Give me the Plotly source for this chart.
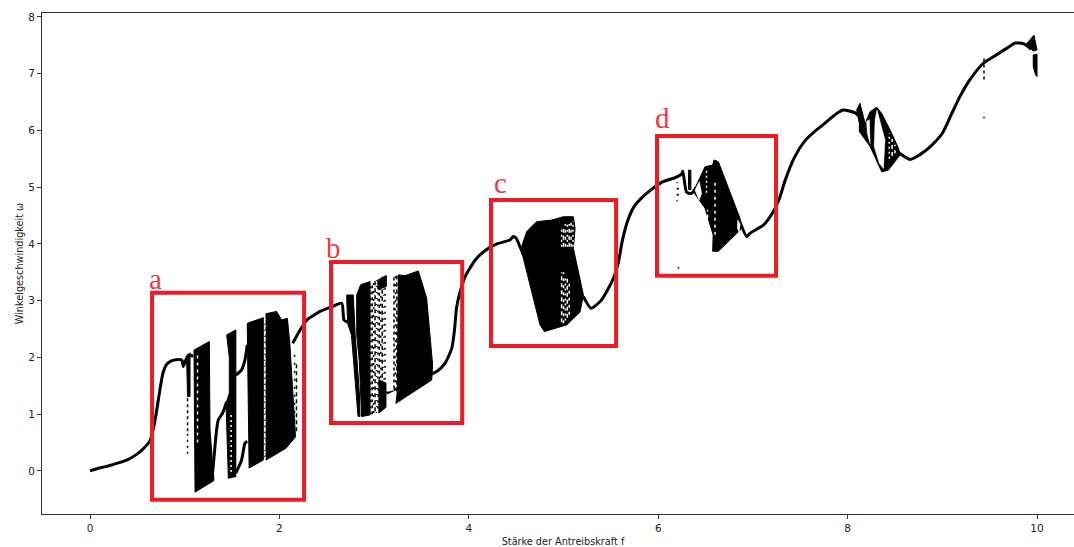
import plotly.graph_objects as go

# ---- continuous branch pieces (drive f, angular speed w) ----
c1_f = [0, 0.1, 0.2, 0.3, 0.4, 0.5, 0.55, 0.63, 0.67, 0.70, 0.74, 0.77, 0.81, 0.86, 0.91, 0.97, 0.985, 1.01, 1.04, 1.09]
c1_w = [0, 0.05, 0.09, 0.14, 0.2, 0.3, 0.37, 0.52, 0.75, 1.02, 1.45, 1.72, 1.88, 1.94, 1.96, 1.95, 1.84, 1.95, 2.04, 2.02]
c2_f = [1.29, 1.31, 1.335, 1.355, 1.40, 1.443]
c2_w = [-0.1, 0.25, 0.7, 0.90, 1.02, 1.22]
c3_f = [1.54, 1.60, 1.637, 1.66]
c3_w = [1.69, 1.78, 1.96, 2.22]
c4_f = [1.54, 1.60, 1.637, 1.66]
c4_w = [-0.04, 0.19, 0.49, 0.52]
c5_f = [2.14, 2.217, 2.29, 2.36, 2.43, 2.55, 2.658, 2.682, 2.72]
c5_w = [2.25, 2.48, 2.66, 2.74, 2.81, 2.89, 2.955, 2.66, 2.62]
c6_f = [3.13, 3.24]
c6_w = [1.37, 1.457]
c7_f = [3.60, 3.66, 3.75, 3.82, 3.85, 3.87, 3.907, 3.96, 4.07, 4.17, 4.295, 4.435, 4.47, 4.50, 4.54, 4.575]
c7_w = [1.70, 1.75, 1.90, 2.16, 2.5, 2.87, 3.15, 3.42, 3.72, 3.88, 4.0, 4.07, 4.13, 4.10, 3.95, 3.81]
c8_f = [5.21, 5.29, 5.40, 5.527, 5.58, 5.62, 5.68, 5.75, 5.85, 5.913, 6.04, 6.18, 6.247, 6.26, 6.30, 6.35, 6.40]
c8_w = [3.07, 2.867, 3.01, 3.395, 3.68, 4.05, 4.42, 4.67, 4.85, 4.94, 5.09, 5.17, 5.23, 5.28, 4.91, 4.89, 5.0]
c9_f = [6.86, 6.935, 6.97, 7.11, 7.216, 7.28, 7.34, 7.44, 7.55, 7.65, 7.71, 7.885, 7.955, 8.08, 8.12]
c9_w = [4.40, 4.13, 4.19, 4.33, 4.57, 4.8, 5.12, 5.53, 5.82, 5.98, 6.06, 6.30, 6.36, 6.31, 6.25]
c10_f = [8.53, 8.66, 8.76, 8.87, 9.0, 9.1, 9.187, 9.29, 9.43, 9.54, 9.71, 9.77, 9.855, 9.94]
c10_w = [5.62, 5.49, 5.57, 5.71, 5.95, 6.3, 6.6, 6.89, 7.18, 7.3, 7.48, 7.54, 7.53, 7.43]

# ---- chaotic bands: outline of each filled region ----
a0_f = [1.02, 1.056, 1.056, 1.03]
a0_w = [1.98, 2.08, 1.31, 1.31]
a1_f = [1.098, 1.26, 1.267, 1.309, 1.109]
a1_w = [2.13, 2.28, 0.72, -0.17, -0.375]
a2_f = [1.443, 1.54, 1.54, 1.461, 1.436, 1.471, 1.471]
a2_w = [2.396, 2.485, -0.10, -0.13, 1.19, 1.37, 2.0]
a3_f = [1.66, 1.83, 1.83, 1.68]
a3_w = [2.60, 2.70, 0.19, 0.05]
a4_f = [1.858, 1.97, 2.024, 2.084, 2.11, 2.17, 2.07, 1.858]
a4_w = [2.77, 2.81, 2.66, 2.69, 2.25, 0.60, 0.40, 0.19]
b0_f = [2.71, 2.78, 2.80, 2.845, 2.85, 2.83, 2.79, 2.76, 2.72]
b0_w = [3.10, 3.10, 2.40, 1.35, 0.96, 0.96, 1.80, 2.40, 2.60]
b1_f = [2.816, 2.858, 2.957, 2.957, 2.868, 2.844, 2.816]
b1_w = [3.10, 3.28, 3.336, 0.987, 0.957, 1.926, 2.40]
b2_f = [3.05, 3.125, 3.125, 3.05]
b2_w = [1.60, 1.55, 1.12, 1.02]
b3_f = [3.256, 3.326, 3.467, 3.555, 3.618, 3.608, 3.23, 3.245]
b3_w = [3.454, 3.44, 3.524, 3.043, 1.868, 1.60, 1.19, 1.40]
b4_f = [3.04, 3.13, 3.13, 3.04]
b4_w = [3.366, 3.44, 3.25, 3.2]
c_f = [4.558, 4.611, 4.716, 4.875, 4.998, 5.104, 5.122, 5.104, 5.21, 5.174, 5.033, 4.798, 4.752, 4.611, 4.558]
c_w = [3.953, 4.217, 4.393, 4.42, 4.48, 4.48, 4.276, 3.924, 3.10, 2.8, 2.573, 2.455, 2.573, 3.51, 3.865]
d0_f = [6.32, 6.345, 6.345, 6.32]
d0_w = [5.30, 5.30, 4.96, 4.96]
d1_f = [6.371, 6.494, 6.575, 6.589, 6.635, 6.758, 6.864, 6.881, 6.635, 6.575, 6.58, 6.494, 6.424]
d1_w = [4.92, 5.36, 5.39, 5.48, 5.45, 4.92, 4.45, 4.27, 3.87, 3.87, 4.16, 4.63, 4.80]
e1_f = [8.096, 8.13, 8.167, 8.184, 8.237, 8.307, 8.36, 8.448, 8.536, 8.554, 8.43, 8.36, 8.237, 8.124, 8.124]
e1_w = [6.36, 6.48, 6.24, 6.12, 6.33, 6.41, 6.30, 6.01, 5.69, 5.57, 5.30, 5.27, 5.72, 5.98, 6.12]
g1_f = [9.89, 9.968, 10.0, 9.96]
g1_w = [7.53, 7.68, 7.42, 7.40]
g2_f = [9.96, 10.0, 10.0, 9.985, 9.96]
g2_w = [7.33, 7.34, 6.95, 6.98, 7.12]

# ---- windows of regular motion inside bands (white outlines) ----
h1_f = [6.434, 6.459, 6.431, 6.388]
h1_w = [5.10, 4.89, 4.77, 4.95]
h2_f = [8.31, 8.395, 8.378, 8.335, 8.28, 8.29]
h2_w = [6.36, 5.83, 5.33, 5.42, 5.72, 6.19]
h3_f = [8.20, 8.23, 8.237, 8.208]
h3_w = [6.16, 6.19, 5.77, 5.95]
h4_f = [6.84, 6.865, 6.855, 6.835]
h4_w = [4.42, 4.35, 4.20, 4.28]
h5_f = [3.14, 3.205, 3.205, 3.14]
h5_w = [3.42, 3.46, 1.42, 1.40]

# ---- white streaks: f, lower w, upper w ----
gap_f = [1.135, 1.49, 1.845, 3.22, 4.98, 5.0, 5.02, 5.04, 5.06, 5.08, 5.10, 4.98, 5.0, 5.02, 5.04, 5.06, 6.51, 6.52, 6.60, 8.44, 8.47, 8.50]
gap_lo = [0.5, -0.02, 0.19, 1.45, 3.95, 3.95, 3.95, 3.95, 3.95, 3.95, 3.95, 2.62, 2.6, 2.65, 2.7, 2.75, 4.9, 4.20, 4.16, 5.5, 5.55, 5.6]
gap_hi = [2.05, 1.0, 2.68, 3.40, 4.25, 4.3, 4.35, 4.35, 4.35, 4.4, 4.4, 3.5, 3.5, 3.4, 3.4, 3.35, 5.3, 4.60, 5.1, 5.95, 5.85, 5.75]

# ---- speckled columns of dots: f, lower w, upper w ----
sp_f = [1.03, 1.03, 2.16, 2.18, 1.845, 2.965, 2.98, 2.995, 3.01, 3.025, 3.04, 3.055, 3.07, 3.085, 3.10, 3.115, 3.21, 3.225, 3.24, 6.20, 6.21, 9.44]
sp_lo = [0.3, 0.7, 0.6, 0.7, 0.25, 1.0, 1.0, 1.02, 1.05, 1.02, 1.1, 1.5, 1.5, 1.52, 1.5, 1.5, 1.45, 1.42, 1.40, 4.75, 4.85, 6.9]
sp_hi = [0.7, 1.3, 2.1, 1.9, 2.65, 3.30, 3.32, 3.33, 3.34, 3.36, 3.38, 3.39, 3.40, 3.42, 3.43, 3.44, 3.46, 3.47, 3.48, 5.1, 5.05, 7.31]

# ---- isolated points ----
dot_f = [6.213, 9.44]
dot_w = [3.58, 6.23]

# ---- framing boxes ----
box_names = ["a", "b", "c", "d"]
box_f0 = [0.655, 2.545, 4.234, 5.987]
box_f1 = [2.26, 3.93, 5.555, 7.244]
box_w0 = [-0.51, 0.846, 2.20, 3.44]
box_w1 = [3.14, 3.68, 4.775, 5.90]
label_f = [0.69, 2.566, 4.33, 6.04]
label_w = [3.39, 3.93, 5.08, 6.22]

x_ticks = [0, 2, 4, 6, 8, 10]
y_ticks = [0, 1, 2, 3, 4, 5, 6, 7, 8]

fig = go.Figure()

curves = [(c1_f, c1_w), (c2_f, c2_w), (c3_f, c3_w), (c4_f, c4_w), (c5_f, c5_w),
          (c6_f, c6_w), (c7_f, c7_w), (c8_f, c8_w), (c9_f, c9_w), (c10_f, c10_w)]
bands = [(a0_f, a0_w), (a1_f, a1_w), (a2_f, a2_w), (a3_f, a3_w), (a4_f, a4_w),
         (b0_f, b0_w), (b1_f, b1_w), (b2_f, b2_w), (b3_f, b3_w), (b4_f, b4_w), (c_f, c_w),
         (d0_f, d0_w), (d1_f, d1_w), (e1_f, e1_w), (g1_f, g1_w), (g2_f, g2_w)]
holes = [(h1_f, h1_w), (h2_f, h2_w), (h3_f, h3_w), (h4_f, h4_w), (h5_f, h5_w)]

for fx, wy in curves:
    fig.add_trace(go.Scatter(x=fx, y=wy, mode="lines", line=dict(color="black", width=3, shape="spline", smoothing=0.6)))
for fx, wy in bands:
    fig.add_trace(go.Scatter(x=fx + fx[:1], y=wy + wy[:1], mode="lines", fill="toself", fillcolor="black",
                             line=dict(color="black", width=1)))
for fx, wy in holes:
    fig.add_trace(go.Scatter(x=fx + fx[:1], y=wy + wy[:1], mode="lines", fill="toself", fillcolor="white",
                             line=dict(color="white", width=0.5)))
for i, (fx, lo, hi) in enumerate(zip(gap_f, gap_lo, gap_hi)):
    fig.add_trace(go.Scatter(x=[fx, fx], y=[lo, hi], mode="lines",
                             line=dict(color="white", width=1.5, dash=["3px,4px", "2px,3px", "4px,3px"][i % 3])))
for i, (fx, lo, hi) in enumerate(zip(sp_f, sp_lo, sp_hi)):
    fig.add_trace(go.Scatter(x=[fx, fx], y=[lo, hi], mode="lines",
                             line=dict(color="black", width=1.5, dash=["2px,4px", "3px,3px", "2px,6px", "4px,3px", "1px,5px"][i % 5])))
fig.add_trace(go.Scatter(x=dot_f, y=dot_w, mode="markers", marker=dict(color="#333333", size=2)))

for x0, x1, y0, y1 in zip(box_f0, box_f1, box_w0, box_w1):
    fig.add_shape(type="rect", x0=x0, x1=x1, y0=y0, y1=y1, line=dict(color="#ED1C24", width=4), layer="above")
for name, fx, wy in zip(box_names, label_f, label_w):
    fig.add_annotation(x=fx, y=wy, text=name, showarrow=False,
                       font=dict(family="Liberation Serif", size=29, color="#F0383F"))

tick_font = dict(family="DejaVu Sans", size=10.5, color="#222222")
title_font = dict(family="DejaVu Sans", size=9.7, color="#222222")
fig.update_layout(
    width=1084, height=547, showlegend=False, plot_bgcolor="white", paper_bgcolor="white",
    margin=dict(l=42, r=0, t=13, b=33), autosize=False,
    xaxis=dict(range=[-0.507, 10.496], tickvals=x_ticks, showgrid=False, zeroline=False, showline=True,
               mirror=True, linecolor="#333333", linewidth=1, ticks="outside", ticklen=4, tickcolor="#333333",
               tickfont=tick_font,
               title=dict(text="Stärke der Antreibskraft f", font=title_font, standoff=6)),
    yaxis=dict(range=[-0.76, 8.07], tickvals=y_ticks, showgrid=False, zeroline=False, showline=True,
               linecolor="#333333", linewidth=1, ticks="outside", ticklen=4, tickcolor="#333333",
               tickfont=tick_font,
               title=dict(text="Winkelgeschwindigkeit ω", font=title_font, standoff=2)),
)
fig.write_html("out.html", config=dict(displayModeBar=False),
               post_script="document.body.style.margin='0';document.body.style.overflow='hidden';")
